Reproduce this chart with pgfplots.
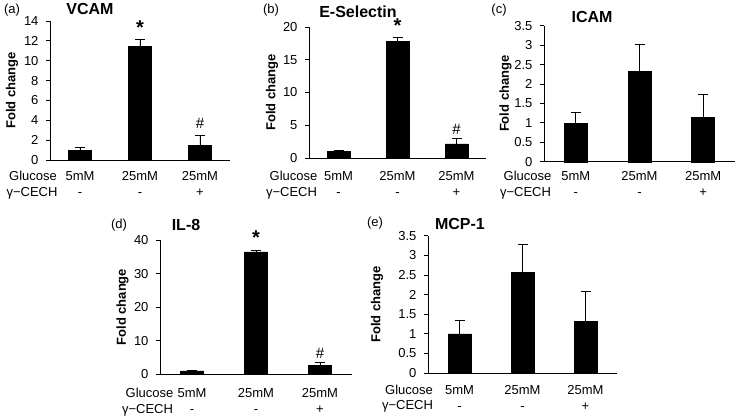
\documentclass[border=0pt]{standalone}
\usepackage{pgfplots}
\pgfplotsset{compat=1.18}
\usepackage{fontspec}
\setmainfont{Liberation Sans}
\newcommand{\fs}[1]{\fontsize{#1}{#1}\selectfont}
\pgfplotsset{
  panel/.style={
    scale only axis,
    clip=false,
    anchor=south west,
    axis x line*=bottom, axis y line*=left,
    axis line style={-, line width=0.8pt, black},
    enlargelimits=false,
    ymin=0, xmin=-0.5, xmax=2.5,
    xtick={0,1,2},
    xticklabels={5mM,25mM,25mM},
    extra x ticks={0,1,2},
    extra x tick labels={-,-,+},
    extra x tick style={xticklabel style={yshift=-16pt}},
    xtick style={draw=none},
    ytick style={black, line width=0.8pt},
    tick align=outside,
    major tick length=4pt,
    /pgf/number format/assume math mode=true,
    tick label style={font=\fs{13}},
    yticklabel style={xshift=-4pt},
  },
  rowshift/.style={
    xticklabel style={anchor=base, yshift=-#1},
  },
  barstyle/.style={
    ybar, bar width=23pt, fill=black, draw=black,
    error bars/.cd, y dir=plus, y explicit,
    error bar style={black, line width=0.8pt},
    error mark options={rotate=90, mark size=5pt, black, line width=0.8pt},
  },
}
\newcommand{\foldlabel}[1]{\node[rotate=90, font=\bfseries\fs{13}] at ([xshift=#1]rel axis cs:0,0.5) {Fold change};}
\begin{document}
\begin{tikzpicture}[x=1pt,y=1pt]
\useasboundingbox (0,0) rectangle (736,418);
\fill[white] (0,0) rectangle (736,418);

% (a) VCAM
\begin{axis}[panel, rowshift=16.7pt, at={(50pt,258pt)}, width=180pt, height=139pt,
  ymax=14, ytick={0,2,...,14}]
\addplot[barstyle] coordinates {(0,1.0) +- (0,0.22) (1,11.45) +- (0,0.71) (2,1.45) +- (0,0.99)};
\foldlabel{-38pt}
\node[font=\bfseries\fs{20}] at ([yshift=12pt]axis cs:1,12.16) {*};
\node[font=\fs{15}] at ([yshift=12pt]axis cs:2,2.44) {\#};
\end{axis}

% (b) E-Selectin
\begin{axis}[panel, rowshift=18.7pt, at={(309pt,260pt)}, width=177pt, height=131pt,
  ymax=20, ytick={0,5,...,20}]
\addplot[barstyle] coordinates {(0,0.97) +- (0,0.25) (1,17.76) +- (0,0.66) (2,2.14) +- (0,0.91)};
\foldlabel{-37pt}
\node[font=\bfseries\fs{20}] at ([yshift=12pt]axis cs:1,18.42) {*};
\node[font=\fs{15}] at ([yshift=9pt]axis cs:2,3.05) {\#};
\end{axis}

% (c) ICAM
\begin{axis}[panel, rowshift=15pt, at={(544pt,256.3pt)}, width=191pt, height=136pt,
  ymax=3.5, ytick={0,0.5,...,3.5}]
\addplot[barstyle] coordinates {(0,0.99) +- (0,0.29) (1,2.33) +- (0,0.69) (2,1.14) +- (0,0.58)};
\foldlabel{-38.5pt}
\end{axis}

% (d) IL-8
\begin{axis}[panel, rowshift=19.4pt, at={(160pt,43.7pt)}, width=192pt, height=134.3pt,
  ymax=40, ytick={0,10,...,40}]
\addplot[barstyle] coordinates {(0,1.0) +- (0,0.2) (1,36.5) +- (0,0.5) (2,2.7) +- (0,0.8)};
\foldlabel{-37.5pt}
\node[font=\bfseries\fs{20}] at ([yshift=12pt]axis cs:1,37.0) {*};
\node[font=\fs{15}] at ([yshift=9pt]axis cs:2,3.5) {\#};
\end{axis}

% (e) MCP-1
\begin{axis}[panel, rowshift=17.7pt, at={(428pt,45pt)}, width=189pt, height=137.3pt,
  ymax=3.5, ytick={0,0.5,...,3.5}]
\addplot[barstyle] coordinates {(0,1.0) +- (0,0.33) (1,2.57) +- (0,0.72) (2,1.31) +- (0,0.76)};
\foldlabel{-51pt}
\end{axis}

% panel letters and titles
\node[font=\fs{13}] at (12,407.5) {(a)};
\node[font=\bfseries\fs{16}] at (90,409) {VCAM};
\node[font=\fs{13}] at (271,408) {(b)};
\node[font=\bfseries\fs{16}] at (358,406.5) {E-Selectin};
\node[font=\fs{13}] at (499,408) {(c)};
\node[font=\bfseries\fs{16}] at (592,401) {ICAM};
\node[font=\fs{13}] at (119,193) {(d)};
\node[font=\bfseries\fs{16}] at (186,193) {IL-8};
\node[font=\fs{13}] at (375,195) {(e)};
\node[font=\bfseries\fs{16}] at (460,194.5) {MCP-1};

% row labels (baseline anchored)
\foreach \gx/\gy/\cx/\cy in {33/237.3/32/221.3, 293.5/237.3/291.5/221.3, 527.5/237.3/525.5/221.3, 149.5/20.3/147.5/4.3, 409/23.3/407.5/8.3}{
  \node[font=\fs{13}, anchor=base] at (\gx,\gy) {Glucose};
  \node[font=\fs{13}, anchor=base] at (\cx,\cy) {γ−CECH};
}
\end{tikzpicture}
\end{document}
